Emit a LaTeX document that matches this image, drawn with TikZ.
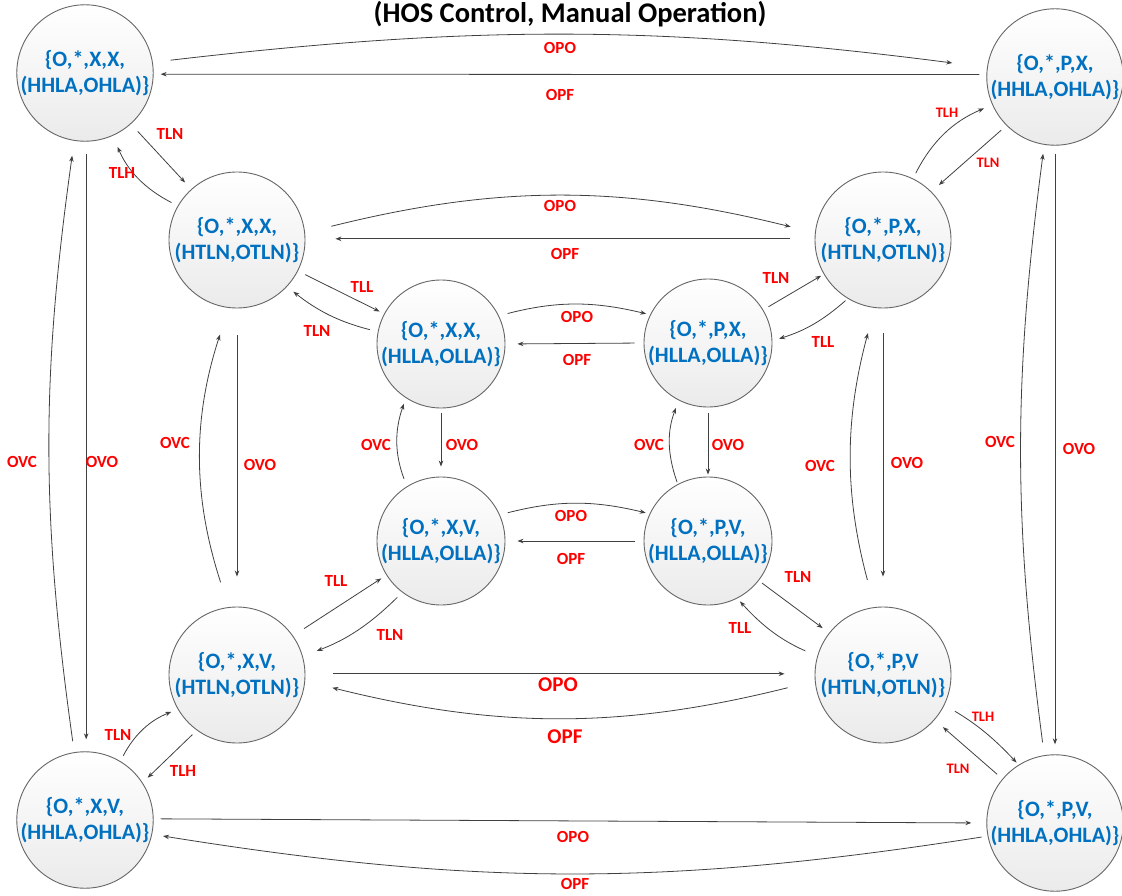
\documentclass[tikz,border=0pt]{standalone}
\usepackage{fontspec}
\setmainfont{Carlito}
\usetikzlibrary{arrows.meta}
\definecolor{nblue}{RGB}{0,112,192}
\definecolor{lred}{RGB}{255,0,0}
\newcommand\nfnt{\fontsize{22}{26.5}\selectfont\bfseries}
\newcommand\lfnt{\fontsize{17}{20}\selectfont\bfseries}
\newcommand\sfnt{\fontsize{14.5}{17}\selectfont\bfseries}
\newcommand\bgfnt{\fontsize{21}{24}\selectfont\bfseries}
\newcommand\tfnt{\fontsize{28.5}{31}\selectfont\bfseries}
\tikzset{
  st/.style={circle, draw=black!60, line width=0.9pt, top color=white, bottom color=black!8,
    minimum size=136pt, inner sep=0pt, align=center, font=\nfnt, text=nblue},
  sti/.style={st, minimum size=128pt},
  arr/.style={-{Stealth[length=6pt,width=4.5pt]}, draw=black!75, line width=0.8pt},
  lbl/.style={text=lred, font=\lfnt, inner sep=0pt},
  slbl/.style={lbl, font=\sfnt},
  blbl/.style={lbl, font=\bgfnt},
  gap/.style 2 args={shorten <=#1pt, shorten >=#2pt}
}
\begin{document}
\begin{tikzpicture}[x=1pt,y=1pt]
\useasboundingbox (0,0) rectangle (1122,-896);
\node[font=\tfnt, inner sep=0pt] (title) at (570,-14) {(HOS Control, Manual Operation)};
% outer
\node[st] (TL) at (85,-73) {\{O,*,X,X,\\(HHLA,OHLA)\}};
\node[st] (TR) at (1055,-77) {\{O,*,P,X,\\(HHLA,OHLA)\}};
\node[st] (BL) at (85,-820) {\{O,*,X,V,\\(HHLA,OHLA)\}};
\node[st] (BR) at (1055,-823) {\{O,*,P,V,\\(HHLA,OHLA)\}};
% middle
\node[st] (mXX) at (237,-240) {\{O,*,X,X,\\(HTLN,OTLN)\}};
\node[st] (mPX) at (883,-240) {\{O,*,P,X,\\(HTLN,OTLN)\}};
\node[st] (mXV) at (237,-675) {\{O,*,X,V,\\(HTLN,OTLN)\}};
\node[st] (mPV) at (883,-675) {\{O,*,P,V\\(HTLN,OTLN)\}};
% inner
\node[sti] (iXX) at (441,-344) {\{O,*,X,X,\\(HLLA,OLLA)\}};
\node[sti] (iPX) at (708,-343) {\{O,*,P,X,\\(HLLA,OLLA)\}};
\node[sti] (iXV) at (441,-541) {\{O,*,X,V,\\(HLLA,OLLA)\}};
\node[sti] (iPV) at (708,-541) {\{O,*,P,V,\\(HLLA,OLLA)\}};

% ---- outer connectors
\draw[arr, gap={18}{35}] (TL.9) to[bend left=7] (TR.172);
\draw[arr, gap={7}{7}] (TR.178) -- (TL.-1);
\draw[arr, gap={12}{12}] (TL.-89) -- (BL.89);
\draw[arr, gap={11}{15}] (BL.99.5) to[bend left=8] (TL.261);
\draw[arr, gap={8}{10}] (TR.-90) -- (BR.90);
\draw[arr, gap={13}{9}] (BR.99) to[bend left=7.5] (TR.261);
\draw[arr, gap={7}{15}] (BL.1) -- (BR.180);
\draw[arr, gap={6}{11}] (BR.191) to[bend left=9] (BL.-12);
% ---- outer <-> middle
\draw[arr, gap={10}{9}] (TL.-48) -- (mXX.132);
\draw[arr, gap={7}{12}] (mXX.150) to[bend left=20] (TL.-66);
\draw[arr, gap={6}{9}] (mPX.64) to[bend left=20] (TR.204);
\draw[arr, gap={7}{10}] (TR.225) -- (mPX.45);
\draw[arr, gap={6}{7}] (BL.59) to[bend left=20] (mXV.210);
\draw[arr, gap={6}{7}] (mXV.234) -- (BL.33);
\draw[arr, gap={12}{3}] (mPV.-26) to[bend left=8] (BR.122);
\draw[arr, gap={7}{11}] (BR.140) -- (mPV.-41);
% ---- middle <-> inner
\draw[arr, gap={8}{5}] (mXX.-27) -- (iXX.152);
\draw[arr, gap={8}{8}] (iXX.169) to[bend left=12] (mXX.-43);
\draw[arr, gap={6}{3}] (iPX.31) -- (mPX.210);
\draw[arr, gap={3}{7}] (mPX.239) to[bend left=12] (iPX.2);
\draw[arr, gap={13}{6}] (mXV.35) -- (iXV.212);
\draw[arr, gap={7}{15}] (iXV.233) to[bend left=12] (mXV.16);
\draw[arr, gap={4}{8}] (iPV.-38) -- (mPV.142);
\draw[arr, gap={13}{4}] (mPV.164) to[bend left=12] (iPV.-63);
% ---- middle ring
\draw[arr, gap={27}{25}] (mXX.6) to[bend left=14] (mPX.174);
\draw[arr, gap={25}{30}] (mPX.179) -- (mXX.1);
\draw[arr, gap={28}{30}] (mXV.1) -- (mPV.179);
\draw[arr, gap={28}{28}] (mPV.185) to[bend left=14] (mXV.-5);
\draw[arr, gap={27}{30}] (mXX.-90) -- (mXV.90);
\draw[arr, gap={26}{28}] (mXV.97) to[bend left=18] (mXX.263);
\draw[arr, gap={25}{30}] (mPX.-90) -- (mPV.90);
\draw[arr, gap={28}{26}] (mPV.97) to[bend left=15] (mPX.263);
% ---- inner ring
\draw[arr, gap={9}{4}] (iXX.26) to[bend left=14] (iPX.154);
\draw[arr, gap={9}{12}] (iPX.180) -- (iXX.0);
\draw[arr, gap={8}{4}] (iXV.24) to[bend left=14] (iPV.155);
\draw[arr, gap={9}{12}] (iPV.180) -- (iXV.0);
\draw[arr, gap={5}{10}] (iXX.-90) -- (iXV.90);
\draw[arr, gap={8}{6}] (iXV.122) to[bend left=20] (iXX.237);
\draw[arr, gap={6}{2}] (iPX.-90) -- (iPV.90);
\draw[arr, gap={2}{8}] (iPV.118) to[bend left=20] (iPX.243);

% ---- labels
\node[lbl] (l1) at (560,-48) {OPO};
\node[lbl] (l2) at (560,-95) {OPF};
\node[lbl] (l3) at (22,-462) {OVC};
\node[lbl] (l4) at (102,-462) {OVO};
\node[lbl] (l5) at (1000,-442) {OVC};
\node[lbl] (l6) at (1079,-449) {OVO};
\node[lbl] (l7) at (573,-837) {OPO};
\node[lbl] (l8) at (575,-884) {OPF};
\node[lbl] (l9) at (170,-134) {TLN};
\node[lbl] (l10) at (122,-173) {TLH};
\node[slbl] (l11) at (947,-113) {TLH};
\node[slbl] (l12) at (988,-163) {TLN};
\node[lbl] (l13) at (118,-735) {TLN};
\node[lbl] (l14) at (183,-771) {TLH};
\node[slbl] (l15) at (983,-717) {TLH};
\node[slbl] (l16) at (958,-769) {TLN};
\node[lbl] (l17) at (362,-287) {TLL};
\node[lbl] (l18) at (317,-331) {TLN};
\node[lbl] (l19) at (776,-278) {TLN};
\node[lbl] (l20) at (823,-342) {TLL};
\node[lbl] (l21) at (336,-581) {TLL};
\node[lbl] (l22) at (390,-635) {TLN};
\node[lbl] (l23) at (798,-577) {TLN};
\node[lbl] (l24) at (740,-628) {TLL};
\node[lbl] (l25) at (560,-206) {OPO};
\node[lbl] (l26) at (565,-254) {OPF};
\node[blbl] (l27) at (558,-685) {OPO};
\node[blbl] (l28) at (565,-737) {OPF};
\node[lbl] (l29) at (175,-443) {OVC};
\node[lbl] (l30) at (260,-465) {OVO};
\node[lbl] (l31) at (820,-466) {OVC};
\node[lbl] (l32) at (907,-463) {OVO};
\node[lbl] (l33) at (577,-317) {OPO};
\node[lbl] (l34) at (577,-360) {OPF};
\node[lbl] (l35) at (571,-516) {OPO};
\node[lbl] (l36) at (571,-559) {OPF};
\node[lbl] (l37) at (376,-445) {OVC};
\node[lbl] (l38) at (462,-445) {OVO};
\node[lbl] (l39) at (649,-445) {OVC};
\node[lbl] (l40) at (728,-445) {OVO};
\end{tikzpicture}
\end{document}
